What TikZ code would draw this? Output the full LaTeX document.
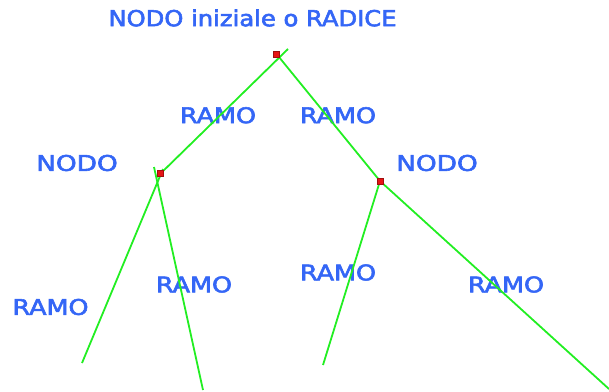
\documentclass[tikz,border=0pt]{standalone}
\usepackage{fontspec}
\usepackage{graphicx}
\setmainfont{DejaVu Sans}
\definecolor{lbl}{RGB}{52,102,246}
\definecolor{br}{RGB}{34,238,34}
\definecolor{nd}{RGB}{230,20,20}
\newcommand{\ramotxt}{\resizebox{76pt}{16pt}{RAMO}}
\newcommand{\nodotxt}{\resizebox{81.5pt}{16pt}{NODO}}
\tikzset{
  lab/.style={text=lbl, font=\fontsize{20}{20}\selectfont\addfontfeature{FakeBold=2.5}, inner sep=0pt, anchor=center},
  knot/.style={fill=nd, draw=nd!70!black, line width=0.4pt, minimum size=6pt, inner sep=0pt},
  branch/.style={draw=br, line width=1.8pt}
}
\begin{document}
\begin{tikzpicture}[x=1pt,y=-1pt]
\useasboundingbox (0,0) rectangle (609,391);
% labels
\node[lab] (title) at (252.5,18) {\resizebox{288pt}{16.7pt}{NODO iniziale o RADICE}};
\node[lab] (r1) at (218,115.3) {\ramotxt};
\node[lab] (r2) at (338,115.3) {\ramotxt};
\node[lab] (nl) at (77,163) {\nodotxt};
\node[lab] (nr) at (437,163) {\nodotxt};
\node[lab] (r3) at (194,284.5) {\ramotxt};
\node[lab] (r4) at (338,272.5) {\ramotxt};
\node[lab] (r5) at (506,284.5) {\ramotxt};
\node[lab] (r6) at (50.5,307) {\ramotxt};
% nodes
\node[knot] (root) at (276.5,54) {};
\node[knot] (left) at (160,173) {};
\node[knot] (right) at (380,181) {};
% free ends
\coordinate (top) at (288,49);
\coordinate (lend) at (157,177);
\coordinate (la) at (163,169);
\coordinate (lb) at (154,167);
\coordinate (ll) at (82,363);
\coordinate (lr) at (203,390);
\coordinate (rl) at (323,365);
\coordinate (rr) at (609,389);
% branches
\draw[branch] (top) -- (lend);
\draw[branch] (root.center) -- (right.center);
\draw[branch] (right.center) -- (rr);
\draw[branch] (la) -- (ll);
\draw[branch] (lb) -- (lr);
\draw[branch] (right.center) -- (rl);
% redraw knots on top
\node[knot] at (root) {};
\node[knot] at (left) {};
\node[knot] at (right) {};
\end{tikzpicture}
\end{document}
